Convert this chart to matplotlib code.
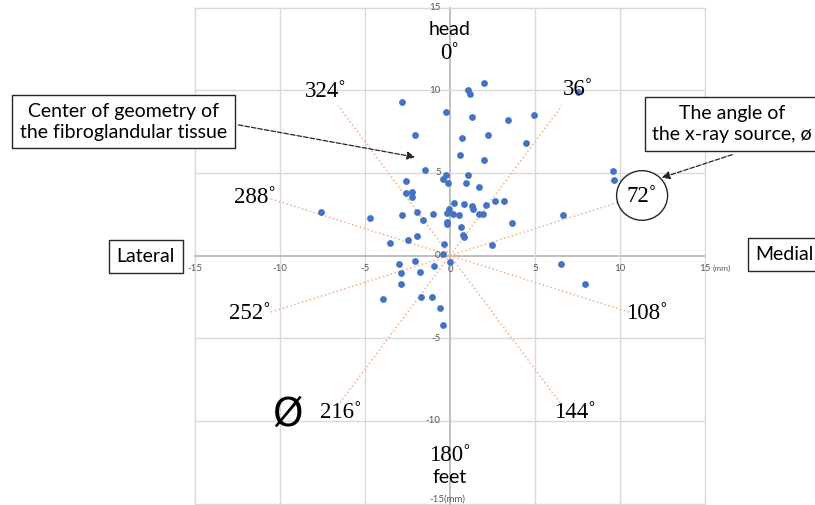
import numpy as np
import matplotlib
matplotlib.use("Agg")
import matplotlib.pyplot as plt
from matplotlib.patches import Circle

# Scatter points (mm)
x_pts = [-2.84, 1.04, 1.19, 2.02, -0.22, 1.27, 3.43, 4.94, -2.06, 0.69, 2.22, 4.45,
         0.57, 2.02, -1.47, -0.22, 1.04, -0.41, -0.14, 0.96, 1.71, -2.61, -2.57, -2.24,
         -2.24, 0.24, 0.84, 1.29, 1.37, 2.12, 2.63, 3.18, 1.73, 1.96, -0.04, -0.16,
         0.16, 0.51, -0.98, -1.92, -2.80, -4.71, -1.57, -0.18, -0.18, 3.65, 0.65, 0.78,
         0.80, -1.92, -2.47, -3.55, 2.45, -0.37, -0.43, 0.00, -0.96, -2.06, -2.98, -2.90,
         -1.75, -2.90, -3.94, -1.69, -1.08, -0.57, -0.43, 6.51, -7.59, 7.55, 9.57, 9.67,
         6.67, 7.96]
y_pts = [9.30, 10.02, 9.76, 10.45, 8.69, 8.39, 8.21, 8.49, 7.26, 7.08, 7.26, 6.79,
         6.09, 5.79, 5.18, 4.88, 4.88, 4.62, 4.36, 4.36, 4.17, 4.52, 3.81, 3.85,
         3.55, 3.16, 3.12, 3.02, 2.82, 3.04, 3.29, 3.29, 2.52, 2.54, 2.82, 2.58,
         2.48, 2.46, 2.54, 2.62, 2.44, 2.24, 2.14, 2.04, 1.90, 1.94, 1.75, 1.27,
         1.11, 1.17, 0.91, 0.73, 0.63, 0.67, 0.10, -0.42, -0.63, -0.32, -0.50, -1.07,
         -0.99, -1.75, -2.66, -2.48, -2.52, -3.19, -4.21, -0.50, 2.64, 9.90, 5.14, 4.54,
         2.46, -1.71]

# x-ray source angles (degrees, clockwise from head)
ray_angles = [36, 72, 108, 144, 216, 252, 288, 324]
ray_len = 11.2

angle_labels = ['324', '36', '288', '252', '108', '144', '216', '180']
angle_label_pos = [(-7.3, 9.92), (7.5, 10.04), (-11.5, 3.51), (-11.75, -3.51),
                   (11.6, -3.51), (7.35, -9.5), (-6.45, -9.5), (0.0, -12.1)]

ticks = [-15, -10, -5, 0, 5, 10, 15]

fig = plt.figure(figsize=(8.15, 5.05), dpi=100)
ax = fig.add_axes([195 / 815, 1 - 503.5 / 505, 510 / 815, 496 / 505])
ax.set_xlim(-15, 15)
ax.set_ylim(-15, 15)
ax.axis('off')

# grid
for t in ticks:
    lw, c = (1.4, '#bfbfbf') if t == 0 else (1.0, '#d9d9d9')
    ax.axvline(t, color=c, lw=lw, zorder=0, clip_on=False)
    ax.axhline(t, color=c, lw=lw, zorder=0, clip_on=False)

# tick labels
tick_kw = dict(fontsize=7, color='#595959', family='Lato')
for t in ticks:
    if t == 0:
        ax.text(0, -0.85, '0', ha='center', va='center', **tick_kw)
    elif t == 15:
        ax.text(t, -0.8, '15', ha='center', va='center', **tick_kw)
        ax.text(t + 0.45, -0.8, '(mm)', ha='left', va='center', fontsize=6,
                color='#595959', family='Lato')
    else:
        ax.text(t, -0.8, str(t), ha='center', va='center', **tick_kw)
for t in ticks:
    if t == -15:
        ax.text(-0.15, -14.72, '-15(mm)', ha='center', va='center', **tick_kw)
    else:
        ax.text(-0.55, t, str(t), ha='right', va='center', **tick_kw)

# rays from origin
for a in ray_angles:
    th = np.deg2rad(a)
    ax.plot([0, ray_len * np.sin(th)], [0, ray_len * np.cos(th)],
            ls=':', color='#f4b183', lw=1.1, zorder=1)

ax.scatter(x_pts, y_pts, s=24, color='#4472c4', zorder=3, linewidths=0)

# angle labels
num_kw = dict(fontsize=16.5, family=['Liberation Serif', 'DejaVu Serif'], color='black',
              ha='center', va='center', zorder=5)
for lab, (lx, ly) in zip(angle_labels, angle_label_pos):
    ax.text(lx, ly, lab + '\u02da', **num_kw)
ax.text(0, 12.2, '0\u02da', **num_kw)

# circled 72 degrees
circ = Circle((11.3, 3.63), radius=1.5, transform=ax.transData,
              facecolor='white', edgecolor='#262626', lw=1.0, zorder=4,
              clip_on=False)
ax.add_patch(circ)
ax.text(11.3, 3.55, '72\u02da', **num_kw)

sans = dict(family='Lato', color='black', ha='center', va='center')
ax.text(0, 13.67, 'head', fontsize=14, **sans)
ax.text(0, -13.4, 'feet', fontsize=14, **sans)
ax.text(-9.55, -9.6, 'Ø', fontsize=28, family='DejaVu Sans', color='black',
        ha='center', va='center')

box = dict(boxstyle='square,pad=0.4', facecolor='white', edgecolor='#262626', lw=1.0)
ax.text(-17.9, -0.05, 'Lateral', fontsize=14, bbox=box, **sans)
ax.text(19.7, 0.05, 'Medial', fontsize=14, bbox=box, **sans)

box2 = dict(boxstyle='square,pad=0.4', facecolor='white', edgecolor='#262626', lw=1.0)
ax.text(-19.2, 8.1, 'Center of geometry of\nthe fibroglandular tissue', fontsize=14,
        linespacing=1.29, bbox=box2, **sans)
ax.text(16.6, 7.95, 'The angle of\nthe x-ray source, ø', fontsize=14,
        linespacing=1.29, bbox=box2, **sans)

arrow = dict(arrowstyle='-|>', linestyle='--', color='#262626', lw=0.9,
             mutation_scale=12, shrinkA=0, shrinkB=0)
ax.annotate('', xy=(-2.05, 5.95), xytext=(-12.45, 7.9), arrowprops=arrow,
            annotation_clip=False)
ax.annotate('', xy=(12.45, 4.7), xytext=(16.6, 6.1), arrowprops=arrow,
            annotation_clip=False)

fig.savefig('out.png', dpi=100)
